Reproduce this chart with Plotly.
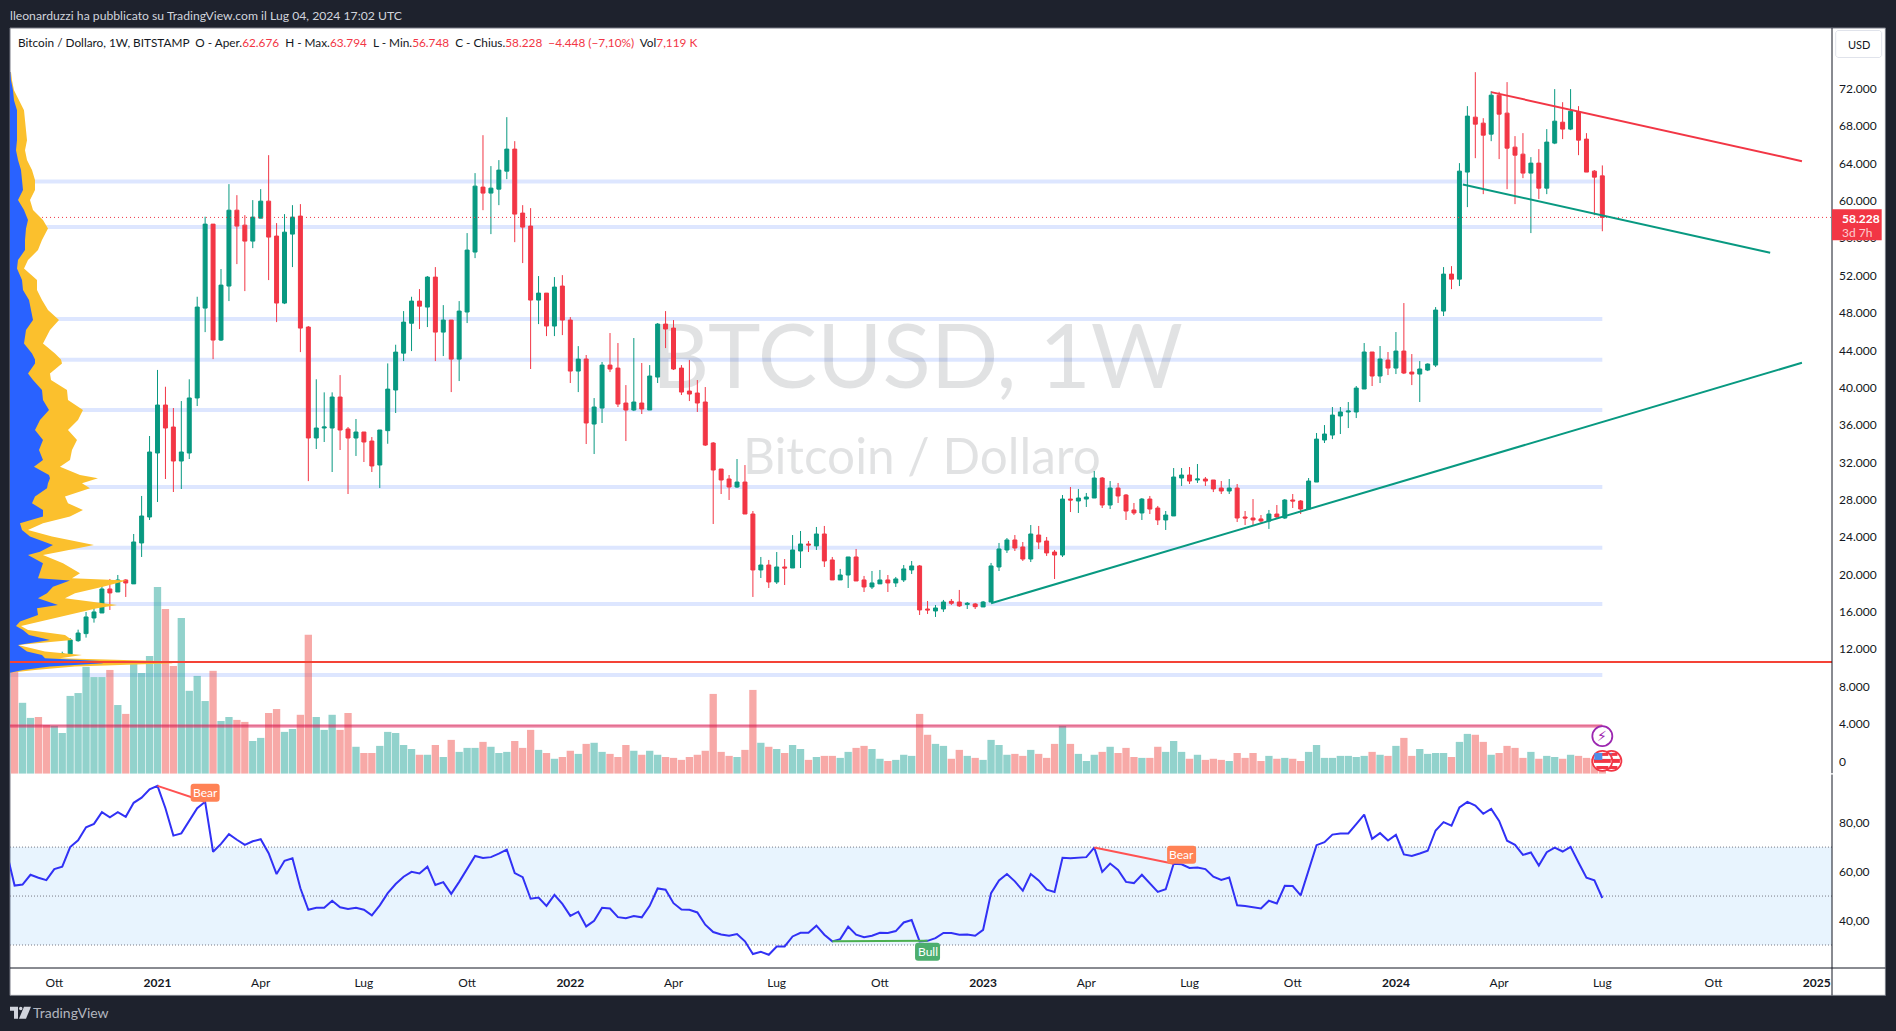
import pandas as pd
import plotly.graph_objects as go

# ---------- data (weekly bars 2020-08-31 .. 2024-07-01) ----------
first_week = "2020-08-31"
opens = [
 11650,10250,10320,10780,10730,10670,11370,11500,12920,13675,
 15352,15886,18455,18134,19418,19000,23378,26160,33008,38145,
 35790,32150,33008,38900,48520,57510,45100,50880,59000,57400,
 55690,58150,59970,56230,49060,56440,58370,46490,34614,35684,
 35684,39000,35575,34614,35256,34290,31725,35400,39750,43700,
 46900,49270,48630,51840,45950,47240,43060,48100,54520,61470,
 60830,61255,63180,65540,58690,57300,49380,50125,46600,50880,
 47240,41780,43070,36110,37820,42420,42100,38360,37610,38360,
 37610,41140,46810,46380,42100,39640,39430,38465,34080,31295,
 30225,29370,29900,26480,20490,21020,19200,20810,20700,22520,
 23270,23060,24340,21560,19420,19950,21880,19420,18670,19000,
 19420,19100,19420,20490,20920,16310,16100,16310,17130,17060,
 16800,16850,16530,17060,20810,22630,23700,22950,21660,24230,
 23590,22410,22090,28080,27870,28080,28190,30330,27440,29260,
 28510,26910,26590,28080,27120,25840,26270,30330,30650,30120,
 30225,30120,29260,28940,29260,26160,26050,25950,25730,26480,
 26050,27980,27870,27010,29900,34400,34930,36970,37400,37400,
 39860,43820,41250,42960,42100,43920,41675,41460,41890,42420,
 48200,52160,51620,63080,68960,68320,67140,71310,69390,65750,
 65000,62970,64040,61360,66180,68420,67680,69500,66610,63180,
 62676,
]
highs = [
 12090,10800,11180,11050,10950,11500,11740,13200,14100,15994,
 16564,18883,19525,19953,19500,24340,28410,34828,41900,40100,
 37824,38570,40900,49734,58300,57510,52700,61790,60610,58470,
 60080,61255,64890,57620,58580,59540,59650,46600,40900,39500,
 39500,41350,35790,36650,35256,34720,35470,42600,44600,48200,
 49734,50555,51950,52910,48840,47240,49270,56550,62970,67030,
 63720,64360,68960,66390,59540,59220,51950,50125,51840,52050,
 47560,44450,43500,38890,42750,45850,44780,40280,45315,42640,
 42420,46920,48200,47240,42420,42960,40820,40070,34180,31295,
 30650,32365,31720,26800,21880,21560,22410,21660,24230,24660,
 23590,25090,25200,21880,20600,21880,22735,19850,20380,20490,
 19950,19740,21020,21450,21020,17170,16740,17280,17380,18350,
 17060,16960,17170,21240,23380,23910,24230,23480,25300,25200,
 24020,22630,28510,29370,29160,28730,31080,30440,30010,29800,
 28620,27660,28190,28410,27340,26800,31400,31400,31510,31830,
 30440,30120,30010,30225,29690,26800,28080,26370,26910,27440,
 28080,28620,27980,30330,35150,36000,37930,37930,38465,40180,
 44780,43820,44460,43820,45960,49060,43600,42850,42600,48630,
 52910,53015,64040,70140,73775,68850,71740,71670,72710,66930,
 67250,64680,65540,67680,71960,70560,71960,70140,67250,63290,
 63794,
]
lows = [
 9850,9850,10200,10130,10370,10530,11200,11400,12800,13247,
 14852,15886,16208,18134,17600,19000,21880,25840,27765,30226,
 28835,29156,32367,38038,45950,43060,45000,49270,53230,50340,
 54940,58150,51520,47020,48950,52910,43810,30000,33436,34186,
 30975,33330,28620,32690,32045,30975,29260,34000,37290,42850,
 43920,46275,46490,42850,43385,39530,40710,46920,53870,59000,
 56440,59540,62325,55580,53340,42000,46810,45525,45525,45630,
 40500,39530,33970,32900,36220,41675,37930,34290,37500,37180,
 37610,40500,44240,41890,39215,38570,37400,33760,25410,28620,
 27980,29260,26480,17600,19630,18560,18990,18880,20700,20700,
 22410,22630,20810,19420,19420,18560,19310,18130,18450,19000,
 18130,18670,19200,20060,15670,15780,15460,16000,16740,16530,
 16310,16310,16530,17060,20380,22310,22520,21450,21340,22735,
 21990,19520,21880,26690,26590,27230,28190,27120,27010,27660,
 25840,26370,25840,26480,25300,24770,26270,29480,29690,29800,
 29480,28830,28620,28620,25620,25300,25300,25410,24880,26050,
 25950,27120,26480,27010,29900,34080,34500,35040,35680,36750,
 39860,40180,40500,41355,41460,41460,40280,38465,41780,42210,
 47670,50550,50880,59330,64570,60720,66390,64470,61250,59650,
 62430,56550,60190,60720,66070,66610,67570,64890,63080,58470,
 56748,
]
closes = [
 10250,10320,10780,10730,10670,11370,11500,13000,13740,15459,
 15994,18455,18028,19418,19097,23485,26266,33115,38145,35684,
 32150,33115,38900,48628,57510,45100,50980,59000,57300,55690,
 58260,59970,56120,49060,56650,58260,46380,34614,35684,35790,
 39000,35470,34614,35256,34186,31620,35470,39850,43810,47020,
 49270,48730,51840,45950,47240,43060,48200,54730,61575,60830,
 61360,63290,65540,58580,57190,49380,50125,46600,50770,47240,
 41780,43060,36220,37930,42420,41995,38250,37610,38465,37720,
 41250,46810,46280,42000,39535,39320,38360,33860,31190,30120,
 29370,29900,26480,20490,21020,19200,20810,20700,22630,23270,
 23160,24340,21450,19420,19950,21880,19310,18670,19100,19420,
 19100,19530,20600,20920,16210,16210,16420,17060,16920,16640,
 16920,16560,17060,20920,22735,23700,22840,21660,24340,23480,
 22310,22090,28080,27980,28190,28300,30330,27440,29260,28410,
 26800,26590,28080,27010,25840,26370,30440,30650,30010,30225,
 30010,29160,28940,29260,26050,26050,25840,25730,26480,26160,
 27980,27870,27010,30010,34500,35040,37070,37400,37500,39960,
 43820,41250,43070,42100,43920,41570,41460,42000,42530,48310,
 52160,51620,63180,69070,68210,67030,71310,69280,65640,64890,
 62970,64040,61360,66290,68530,67680,69600,66500,63080,62540,
 58228,
]
# weekly volume, in hundreds of thousands of units (last bar: 7,119 K)
volume = [
 468,320,252,256,220,216,184,351,364,482,
 436,436,468,310,270,500,454,531,842,742,
 486,702,374,441,328,464,238,256,243,234,
 148,162,274,292,189,202,266,626,256,198,
 266,198,274,122,94,94,126,189,184,130,
 112,86,86,130,76,153,99,117,117,144,
 122,94,99,148,117,198,108,94,68,76,
 104,90,135,140,99,90,76,130,104,86,
 104,86,76,72,63,76,86,104,360,99,
 81,76,108,378,140,122,112,94,130,112,
 63,76,81,81,72,99,117,126,112,68,
 58,63,86,81,270,176,135,126,68,108,
 81,72,63,153,130,86,90,81,108,90,
 72,135,216,135,90,58,86,99,122,94,
 117,76,72,72,122,99,148,99,68,86,
 63,68,63,58,94,72,94,58,81,68,
 72,68,58,99,130,72,72,81,81,76,
 81,99,86,81,126,162,81,112,90,94,
 94,76,144,180,176,144,86,94,126,117,
 72,99,68,81,76,68,86,81,72,68,
 71,
]
# RSI starts one week earlier (its first point is just off the left edge)
rsi_first_week = "2020-08-24"
rsi = [
 67.9,54.3,54.7,58.7,57.5,56.5,61.0,62.0,70.0,72.8,
 78.1,79.5,84.3,82.2,84.3,82.4,88.1,90.2,93.6,95.0,
 85.9,74.7,75.6,80.5,85.9,88.5,68.1,71.3,75.3,73.0,
 70.9,72.4,73.2,67.5,59.0,64.4,65.4,53.2,44.4,45.2,
 45.2,48.1,45.4,44.7,45.2,44.4,42.1,46.2,51.2,54.9,
 57.9,59.9,59.2,62.0,54.5,55.7,50.9,55.8,61.1,66.4,
 65.6,65.9,67.3,69.0,59.4,57.7,48.9,49.4,46.0,50.5,
 46.8,41.9,43.6,37.6,39.9,45.2,44.9,41.4,40.9,41.8,
 41.3,46.0,53.1,52.6,47.1,44.5,44.4,43.3,38.3,35.3,
 34.3,33.8,34.5,31.5,26.3,27.2,26.0,29.4,29.4,33.5,
 35.0,35.0,37.9,34.2,31.5,32.4,37.5,34.2,33.2,33.8,
 35.0,34.9,35.7,39.2,40.2,31.5,31.7,32.8,34.9,34.9,
 34.2,34.3,33.8,36.2,51.2,56.4,59.0,56.0,52.2,59.0,
 56.4,52.6,51.7,65.6,65.4,65.6,65.9,69.8,59.9,63.3,
 60.7,55.8,55.3,58.7,55.3,51.7,52.8,63.2,63.0,61.5,
 61.7,61.0,57.9,56.6,57.6,46.2,45.9,45.5,44.9,48.1,
 47.0,54.2,54.1,50.3,60.7,70.8,72.0,75.1,75.6,75.6,
 79.4,83.3,73.4,75.7,72.7,75.0,67.0,66.4,67.4,68.5,
 76.8,80.2,78.8,86.2,88.5,87.0,83.6,85.6,80.7,72.6,
 70.9,66.8,67.8,62.5,67.9,69.8,68.2,70.1,63.7,57.5,
 56.4,49.2,
]
# visible-range volume profile: price level, blue (up) part, total (blue + yellow)
vp_price = [
 73800,72920,71850,70780,69710,68640,67570,66500,65430,64360,63290,62220,61150,60080,
 59010,57940,57050,55800,54730,53660,52770,51520,50450,49380,48310,47240,46170,44740,
 43670,43030,42600,41530,40820,39750,38680,37610,36540,35470,34400,33330,32260,31550,
 30650,30300,29760,29230,28340,27620,26910,26200,25480,24770,24060,23160,22450,22090,
 21200,20130,19600,19350,18700,17990,17460,16740,16390,15670,14960,14500,14070,13530,
 13000,12460,11750,11390,11040,10750,10500,10150,9790,9500,
]
vp_up = [
 0.5,1,3,4,7,7,7,7,6,8,11,12,13,8,
 14,18,16,15,15,8,7,12,13,19,21,23,16,14,
 22,25,25,18,23,32,33,39,30,25,33,29,33,24,
 39,40,38,37,25,22,33,33,10,12,20,43,30,18,
 33,30,28,60,43,37,28,48,27,28,10,6,13,19,
 40,8,17,32,35,90,93,40,13,0,
]
vp_total = [
 1,2,4,9,14,15,16,17,15,17,22,25,25,20,
 23,33,38,32,28,18,14,27,27,32,38,49,40,33,
 45,51,52,40,41,57,58,73,68,58,67,62,60,50,
 70,88,72,80,55,58,73,60,33,18,42,84,50,33,
 53,70,62,117,93,65,55,107,87,58,30,11,18,55,
 62,8,35,72,50,150,163,65,25,0,
]
level_prices = [62060, 57190, 47350, 43000, 37600, 29370, 22870, 16850, 9250]
support_dates = ["2023-01-09", "2024-12-24"]; support_prices = [16920, 42670]
lower_dates = ["2024-02-29", "2024-11-26"]; lower_prices = [61760, 54440]
upper_dates = ["2024-03-25", "2024-12-24"]; upper_prices = [71640, 64250]
red_level = 10640
pink_level = 3796
last_price = 58228
last_date = "2024-07-01"
bear1_dates = ["2021-01-04", "2021-02-15"]; bear1_rsi = [95.0, 88.5]
bear2_dates = ["2023-04-10", "2023-06-19"]; bear2_rsi = [69.8, 63.2]
bull_dates = ["2022-08-22", "2022-11-14"]; bull_rsi = [31.5, 31.7]
x_tick_dates = ["2020-10-05","2021-01-04","2021-04-05","2021-07-05","2021-10-04","2022-01-03",
                "2022-04-04","2022-07-04","2022-10-03","2023-01-02","2023-04-03","2023-07-03",
                "2023-10-02","2024-01-01","2024-04-01","2024-07-01","2024-10-07","2025-01-06"]
x_tick_text = ["Ott","<b>2021</b>","Apr","Lug","Ott","<b>2022</b>","Apr","Lug","Ott","<b>2023</b>",
               "Apr","Lug","Ott","<b>2024</b>","Apr","Lug","Ott","<b>2025</b>"]
price_ticks = [0,4000,8000,12000,16000,20000,24000,28000,32000,36000,40000,44000,48000,52000,56000,60000,64000,68000,72000]
price_tick_text = ["0","4.000","8.000","12.000","16.000","20.000","24.000","28.000","32.000","36.000",
                   "40.000","44.000","48.000","52.000","56.000","60.000","64.000","68.000","72.000"]
rsi_ticks = [40, 60, 80]; rsi_tick_text = ["40,00", "60,00", "80,00"]

# ---------- frame geometry (1896x1031 page) ----------
L, R, T, B = 10.0, 1832.3, 27.5, 968.3
PANE = 774.0
def px(v): return (v - L) / (R - L)
def py(v): return (B - v) / (B - T)
split = py(PANE)
PRICE_RANGE = [-1337, 78503]
RSI_RANGE = [20.61, 99.92]
VOL_RANGE = [0, 3359]
VP_RANGE = [0, R - L]
base = pd.Timestamp("2021-01-04")
x_left = base + pd.Timedelta(days=-18.58 * 7)
x_right = base + pd.Timedelta(days=210.93 * 7)

FONT = "Lato"
INK = "#131722"
RED = "#f23645"
GREEN = "#089981"
weeks = pd.date_range(first_week, periods=len(closes), freq="7D")
rsi_weeks = pd.date_range(rsi_first_week, periods=len(rsi), freq="7D")
vol_colors = ["rgba(38,166,154,0.5)" if c >= o else "rgba(239,83,80,0.5)" for o, c in zip(opens, closes)]

fig = go.Figure()
# watermark (lowest trace layer)
fig.add_trace(go.Scatter(x=["2022-11-05"], y=[42400], mode="text", text=["BTCUSD, 1W"], textposition="middle center",
                         textfont=dict(family=FONT, size=89, color="rgba(19,23,34,0.125)"), xaxis="x", yaxis="y", hoverinfo="skip"))
fig.add_trace(go.Scatter(x=["2022-11-09"], y=[32100], mode="text", text=["Bitcoin / Dollaro"], textposition="middle center",
                         textfont=dict(family=FONT, size=49.5, color="rgba(19,23,34,0.125)"), xaxis="x", yaxis="y", hoverinfo="skip"))
# volume
fig.add_trace(go.Bar(x=weeks, y=volume, marker=dict(color=vol_colors, line=dict(width=0)), xaxis="x", yaxis="y2", hoverinfo="skip"))
# candles
fig.add_trace(go.Candlestick(x=weeks, open=opens, high=highs, low=lows, close=closes, whiskerwidth=0,
                             increasing=dict(line=dict(color=GREEN, width=1), fillcolor=GREEN),
                             decreasing=dict(line=dict(color=RED, width=1), fillcolor=RED),
                             xaxis="x", yaxis="y3", hoverinfo="skip"))
# pink level across the volume pane
fig.add_trace(go.Scatter(x=[x_left, last_date], y=[pink_level]*2, mode="lines", line=dict(color="rgba(233,30,99,0.35)", width=4), xaxis="x", yaxis="y3", hoverinfo="skip"))
fig.add_trace(go.Scatter(x=[x_left, last_date], y=[pink_level]*2, mode="lines", line=dict(color="rgba(200,30,70,0.75)", width=1), xaxis="x", yaxis="y3", hoverinfo="skip"))
# last-price dotted line
fig.add_trace(go.Scatter(x=[x_left, x_right], y=[last_price]*2, mode="lines", line=dict(color=RED, width=1, dash="1px 3px"), xaxis="x", yaxis="y3", hoverinfo="skip"))
# trend lines
for xs, ys, col in [(support_dates, support_prices, GREEN), (lower_dates, lower_prices, GREEN), (upper_dates, upper_prices, RED)]:
    fig.add_trace(go.Scatter(x=xs, y=ys, mode="lines", line=dict(color=col, width=2), xaxis="x", yaxis="y3", hoverinfo="skip"))
# volume profile
fig.add_trace(go.Scatter(x=vp_total, y=vp_price, mode="lines", line=dict(width=0), fill="tozerox", fillcolor="#fbc02d", xaxis="x2", yaxis="y4", hoverinfo="skip"))
fig.add_trace(go.Scatter(x=vp_up, y=vp_price, mode="lines", line=dict(width=0), fill="tozerox", fillcolor="#2962ff", xaxis="x2", yaxis="y4", hoverinfo="skip"))
fig.add_trace(go.Scatter(x=VP_RANGE, y=[red_level]*2, mode="lines", line=dict(color="#f44336", width=2), xaxis="x2", yaxis="y4", hoverinfo="skip"))
# RSI
fig.add_trace(go.Scatter(x=rsi_weeks, y=rsi, mode="lines", line=dict(color="#3131f5", width=2), xaxis="x", yaxis="y5", hoverinfo="skip"))
for xs, ys, col in [(bear1_dates, bear1_rsi, "#ff5252"), (bear2_dates, bear2_rsi, "#ff5252"), (bull_dates, bull_rsi, "#4caf50")]:
    fig.add_trace(go.Scatter(x=xs, y=ys, mode="lines", line=dict(color=col, width=2), xaxis="x", yaxis="y5", hoverinfo="skip"))

# ---------- shapes ----------
shapes = [
    dict(type="rect", xref="paper", yref="paper", x0=px(L), x1=px(1885.7), y0=py(995.7), y1=py(T), fillcolor="white",
         line=dict(color="#787b86", width=1), layer="below"),
]
for p in level_prices:
    shapes.append(dict(type="line", xref="x", yref="y", x0=x_left, x1=last_date, y0=p, y1=p, layer="below",
                       line=dict(color="rgba(41,98,255,0.16)", width=4)))
# RSI band and dotted levels
shapes.append(dict(type="rect", xref="paper", yref="y5", x0=0, x1=1, y0=30, y1=70, fillcolor="rgba(33,150,243,0.1)", line=dict(width=0), layer="below"))
for lvl in (30, 50, 70):
    shapes.append(dict(type="line", xref="paper", yref="y5", x0=0, x1=1, y0=lvl, y1=lvl, layer="below",
                       line=dict(color="#787b86", width=1, dash="1px 2px")))
# axis rules
BLACK = "#131722"
for x0, y0, x1, y1 in [(R, T, R, PANE - 0.7), (R, PANE + 0.7, R, 995.7), (L, B, 1885.7, B)]:
    shapes.append(dict(type="line", xref="paper", yref="paper", x0=px(x0), x1=px(x1), y0=py(y0), y1=py(y1), layer="above",
                       line=dict(color=BLACK, width=1)))
# last-price tag
shapes.append(dict(type="rect", xref="paper", yref="paper", x0=px(R), x1=px(1882), y0=py(240), y1=py(209), fillcolor=RED, line=dict(width=0), layer="above"))
# rounded button / pills
def rrect(x0, y0, x1, y1, r):
    return (f"M{x0+r},{y0} L{x1-r},{y0} Q{x1},{y0} {x1},{y0+r} L{x1},{y1-r} Q{x1},{y1} {x1-r},{y1} "
            f"L{x0+r},{y1} Q{x0},{y1} {x0},{y1-r} L{x0},{y0+r} Q{x0},{y0} {x0+r},{y0} Z")
def pill(date, value, w, h, color):
    shapes.append(dict(type="path", xref="x", yref="y5", xsizemode="pixel", ysizemode="pixel", xanchor=date, yanchor=value,
                       path=rrect(-w/2, -h/2, w/2, h/2, 3), fillcolor=color, line=dict(width=0), layer="above"))
pill("2021-02-15", 92.2, 29, 18, "#ff8255")
pill("2023-06-26", 66.9, 29, 18, "#ff8255")
pill("2022-11-14", 27.3, 25, 18, "#4cae6e")
def pxpath(points):
    return "M" + " L".join(f"{px(a):.5f},{py(b):.5f}" for a, b in points) + " Z"
# USD button
shapes.append(dict(type="path", xref="paper", yref="paper", layer="above", fillcolor="white", line=dict(color="#e0e3eb", width=1),
                   path="M" + " L".join(f"{px(a):.5f},{py(b):.5f}" for a, b in [(1838,30),(1880,30),(1882,32),(1882,55),(1880,57),(1838,57),(1836,55),(1836,32)]) + " Z"))
# TradingView mark
LOGO = "#d1d4dc"
shapes.append(dict(type="path", xref="paper", yref="paper", layer="above", fillcolor=LOGO, line=dict(width=0),
                   path=pxpath([(10,1007),(18,1007),(18,1019),(14,1019),(14,1011),(10,1011)])))
shapes.append(dict(type="path", xref="paper", yref="paper", layer="above", fillcolor=LOGO, line=dict(width=0),
                   path=pxpath([(24,1007),(31,1007),(26,1019),(19,1019)])))
shapes.append(dict(type="circle", xref="paper", yref="paper", layer="above", fillcolor=LOGO, line=dict(width=0),
                   x0=px(19), x1=px(22.5), y0=py(1010.7), y1=py(1007.2)))
# event icons on the last bars
def icon_circle(date, price, color):
    shapes.append(dict(type="circle", xref="x", yref="y3", xsizemode="pixel", ysizemode="pixel", xanchor=date, yanchor=price,
                       x0=-10, x1=10, y0=-10, y1=10, fillcolor="white", line=dict(color=color, width=1.8), layer="above"))
def icon_rect(date, price, x0, x1, y0, y1, color):
    shapes.append(dict(type="rect", xref="x", yref="y3", xsizemode="pixel", ysizemode="pixel", xanchor=date, yanchor=price,
                       x0=x0, x1=x1, y0=y0, y1=y1, fillcolor=color, line=dict(width=0), layer="above"))
def flag(date, price):
    icon_circle(date, price, RED)
    icon_rect(date, price, -1, 6, 8, 5, RED)
    icon_rect(date, price, -8.5, 8.5, 2, -2, RED)
    icon_rect(date, price, -6, 6, -5, -8, RED)
    icon_rect(date, price, -8, 0, 8, 1, "#4f8fe8")
flag("2024-07-09", 50)
flag(last_date, 50)
icon_circle(last_date, 2700, "#9c27b0")

# ---------- texts ----------
H = dict(family=FONT, size=12, color=INK)
def note(x, y, text, **kw):
    d = dict(xref="paper", yref="paper", x=px(x), y=py(y), text=text, showarrow=False, xanchor="left", yanchor="middle", font=H, align="left")
    d.update(kw)
    return d
def red(s): return f'<span style="color:{RED}">{s}</span>'
NB = "\u00a0"
legend = (f"Bitcoin / Dollaro, 1W, BITSTAMP{NB}{NB}O - Aper.{red('62.676')}{NB}{NB}H - Max.{red('63.794')}{NB}{NB}"
          f"L - Min.{red('56.748')}{NB}{NB}C - Chius.{red('58.228')}{NB}{NB}{red('−4.448 (−7,10%)')}{NB}{NB}Vol{red('7,119 K')}")
annotations = [
    note(8, 14.5, "lleonarduzzi ha pubblicato su TradingView.com il Lug 04, 2024 17:02 UTC", font=dict(family=FONT, size=12.2, color="#d1d4dc")),
    note(16, 42, legend, font=dict(family=FONT, size=11.8, color=INK)),
    note(1859, 44.5, "USD", xanchor="center", font=dict(family=FONT, size=11, color=INK)),
    note(1840, 218, "<b>58.228</b>", font=dict(family=FONT, size=12, color="white")),
    note(1840, 232, "3d 7h", font=dict(family=FONT, size=12, color="rgba(255,255,255,0.75)")),
    note(31, 1013, "TradingView", font=dict(family=FONT, size=14, color="#b2b5be")),
]
for date, val, txt in [("2021-02-15", 92.2, "Bear"), ("2023-06-26", 66.9, "Bear"), ("2022-11-14", 27.3, "Bull")]:
    annotations.append(dict(xref="x", yref="y5", x=date, y=val, text=txt, showarrow=False, xanchor="center", yanchor="middle",
                            font=dict(family=FONT, size=12, color="white")))
annotations.append(dict(xref="x", yref="y3", x=last_date, y=2700, text="⚡", showarrow=False, xanchor="center", yanchor="middle",
                        font=dict(family="DejaVu Sans", size=14, color="#9c27b0")))

hidden = dict(visible=False, fixedrange=True)
fig.update_layout(
    width=1896, height=1031, autosize=False,
    margin=dict(l=L, r=1896 - R, t=T, b=1031 - B, pad=0),
    paper_bgcolor="#1e222d", plot_bgcolor="white",
    showlegend=False, hovermode=False, dragmode=False,
    bargap=0.08, boxgap=0.5, boxgroupgap=0, boxmode="overlay",
    font=H,
    xaxis=dict(domain=[0, 1], range=[x_left, x_right], type="date", anchor="y5", showgrid=False, zeroline=False, showline=False,
               tickmode="array", tickvals=x_tick_dates, ticktext=x_tick_text, ticks="", tickangle=0, ticklabelstandoff=6,
               tickfont=H, rangeslider=dict(visible=False), fixedrange=True),
    xaxis2=dict(overlaying="x", range=VP_RANGE, anchor="y4", **hidden),
    yaxis=dict(domain=[split, 1], range=PRICE_RANGE, anchor="x", side="right", showgrid=False, zeroline=False, showline=False,
               tickmode="array", tickvals=price_ticks, ticktext=price_tick_text, ticks="", ticklabelstandoff=6, tickfont=H, fixedrange=True),
    yaxis2=dict(overlaying="y", range=VOL_RANGE, anchor="x", **hidden),
    yaxis3=dict(overlaying="y", range=PRICE_RANGE, anchor="x", **hidden),
    yaxis4=dict(overlaying="y", range=PRICE_RANGE, anchor="x2", **hidden),
    yaxis5=dict(domain=[0, split], range=RSI_RANGE, anchor="x", side="right", showgrid=False, zeroline=False, showline=False,
                tickmode="array", tickvals=rsi_ticks, ticktext=rsi_tick_text, ticks="", ticklabelstandoff=6, tickfont=H, fixedrange=True),
    shapes=shapes, annotations=annotations,
)
fig.write_html("out.html", config={"displayModeBar": False},
               post_script="document.body.style.margin='0';document.body.style.background='#1e222d';document.body.style.overflow='hidden';")
